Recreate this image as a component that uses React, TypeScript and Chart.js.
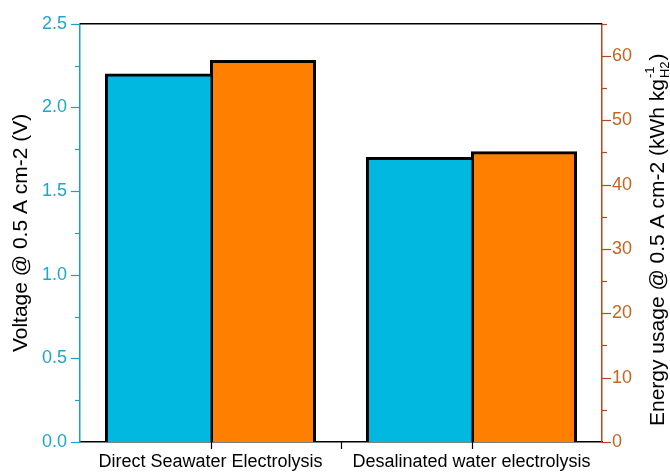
import React, { useEffect, useRef } from "react";
import { Chart, registerables } from "chart.js";

Chart.register(...registerables);

const categories = ["Direct Seawater Electrolysis", "Desalinated water electrolysis"];
const voltage = [2.2, 1.7];
const energy = [59.3, 45.1];
const voltageTicks = [0, 0.5, 1.0, 1.5, 2.0, 2.5];
const energyTicks = [0, 10, 20, 30, 40, 50, 60];

const FONT = "'Liberation Sans', Arial, sans-serif";
const BLUE = "#00b8e0";
const ORANGE = "#ff7f00";
const LEFT_AXIS = "#1e9ec4";
const LEFT_TEXT = "#1ea6cb";
const RIGHT_AXIS = "#b8481a";
const RIGHT_TEXT = "#c8641e";

const decorPlugin = {
  id: "decor",
  afterDraw(chart: any) {
    const { ctx, chartArea } = chart;
    const { left, right, top, bottom } = chartArea;
    const y = chart.scales.y;
    const y1 = chart.scales.y1;
    const x = chart.scales.x;
    ctx.save();
    // top frame line
    ctx.strokeStyle = "#000";
    ctx.lineWidth = 1.5;
    ctx.beginPath();
    ctx.moveTo(left, top);
    ctx.lineTo(right, top);
    ctx.stroke();
    // left ticks
    ctx.strokeStyle = LEFT_AXIS;
    ctx.lineWidth = 1.2;
    for (let i = 0; i <= 10; i++) {
      const v = i * 0.25;
      const py = Math.round(y.getPixelForValue(v)) + 0.5;
      const len = i % 2 === 0 ? 9 : 5;
      ctx.beginPath();
      ctx.moveTo(left - len, py);
      ctx.lineTo(left, py);
      ctx.stroke();
    }
    // right ticks
    ctx.strokeStyle = RIGHT_AXIS;
    for (let v = 0; v <= 65; v += 5) {
      const py = Math.round(y1.getPixelForValue(v)) + 0.5;
      const len = v % 10 === 0 ? 9 : 5;
      ctx.beginPath();
      ctx.moveTo(right, py);
      ctx.lineTo(right + len, py);
      ctx.stroke();
    }
    // bottom ticks
    ctx.strokeStyle = "#000";
    const xs = [x.getPixelForValue(0), (x.getPixelForValue(0) + x.getPixelForValue(1)) / 2, x.getPixelForValue(1)];
    xs.forEach((px: number) => {
      ctx.beginPath();
      ctx.moveTo(Math.round(px) + 0.5, bottom);
      ctx.lineTo(Math.round(px) + 0.5, bottom + 7);
      ctx.stroke();
    });
    // right title with super/subscript
    ctx.translate(658, 426);
    ctx.rotate(-Math.PI / 2);
    ctx.fillStyle = "#000";
    ctx.textBaseline = "middle";
    ctx.textAlign = "left";
    ctx.font = `21px ${FONT}`;
    const main = "Energy usage @ 0.5 A cm-2 (kWh kg";
    ctx.fillText(main, 0, 0);
    const w = ctx.measureText(main).width;
    ctx.font = `13px ${FONT}`;
    ctx.fillText("-1", w + 1, -8);
    ctx.fillText("H2", w + 1, 7);
    const sw = Math.max(ctx.measureText("-1").width, ctx.measureText("H2").width);
    ctx.font = `21px ${FONT}`;
    ctx.fillText(")", w + sw + 2, 0);
    ctx.restore();
  },
};

export default function App() {
  const ref = useRef<HTMLCanvasElement | null>(null);
  useEffect(() => {
    if (!ref.current) return;
    const chart = new Chart(ref.current, {
      type: "bar",
      data: {
        labels: categories,
        datasets: [
          {
            label: "Voltage",
            data: voltage,
            yAxisID: "y",
            backgroundColor: BLUE,
            borderColor: "#000",
            borderWidth: { left: 3, top: 3, right: 0, bottom: 0 },
            borderSkipped: false,
            inflateAmount: 0.5,
            barPercentage: 1,
            categoryPercentage: 0.805,
          },
          {
            label: "Energy",
            data: energy,
            yAxisID: "y1",
            backgroundColor: ORANGE,
            borderColor: "#000",
            borderWidth: { left: 3, top: 3, right: 3, bottom: 0 },
            borderSkipped: false,
            inflateAmount: 0.5,
            barPercentage: 1,
            categoryPercentage: 0.805,
          },
        ],
      },
      options: {
        responsive: false,
        animation: false,
        layout: { padding: { top: 21, left: 0, right: 0, bottom: 0 } },
        plugins: { legend: { display: false }, tooltip: { enabled: false } },
        scales: {
          x: {
            afterFit: (s: any) => { s.height = 30; },
            grid: { display: false, drawTicks: false },
            border: { display: true, color: "#000", width: 1.5 },
            ticks: { color: "#000", font: { family: FONT, size: 18 }, padding: 9, maxRotation: 0 },
          },
          y: {
            position: "left",
            min: 0,
            max: 2.5,
            afterFit: (s: any) => { s.width = 80; },
            afterBuildTicks: (s: any) => { s.ticks = voltageTicks.map((v) => ({ value: v })); },
            grid: { display: false, drawTicks: false },
            border: { display: true, color: LEFT_AXIS, width: 1.5 },
            ticks: {
              color: LEFT_TEXT,
              font: { family: FONT, size: 18 },
              padding: 13,
              callback: (v: any) => Number(v).toFixed(1),
            },
            title: {
              display: true,
              text: "Voltage @ 0.5 A cm-2 (V)",
              color: "#000",
              font: { family: FONT, size: 21 },
              padding: { top: 9, bottom: 0 },
            },
          },
          y1: {
            position: "right",
            min: 0,
            max: 65,
            afterFit: (s: any) => { s.width = 68; },
            afterBuildTicks: (s: any) => { s.ticks = energyTicks.map((v) => ({ value: v })); },
            grid: { display: false, drawTicks: false },
            border: { display: true, color: RIGHT_AXIS, width: 1.5 },
            ticks: {
              color: RIGHT_TEXT,
              font: { family: FONT, size: 18 },
              padding: 10,
            },
          },
        },
      },
      plugins: [decorPlugin],
    } as any);
    return () => chart.destroy();
  }, []);
  return (
    <div style={{ position: "fixed", left: 0, top: 0, width: 670, height: 472, background: "#fff" }}>
      <canvas ref={ref} width={670} height={472} style={{ display: "block" }} />
    </div>
  );
}
